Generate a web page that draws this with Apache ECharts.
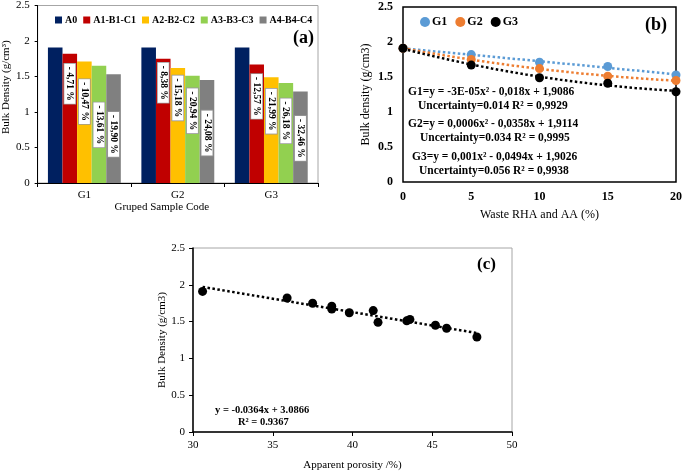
<!DOCTYPE html>
<html><head><meta charset="utf-8">
<script src="https://cdn.jsdelivr.net/npm/echarts@6/dist/echarts.min.js"></script>
<style>html,body{margin:0;padding:0;background:#fff}#c{width:685px;height:472px}</style>
</head><body><div id="c"></div>
<script>
// ---------- data ----------
const groups = ['G1', 'G2', 'G3'];
const mixNames = ['A0', 'A1-B1-C1', 'A2-B2-C2', 'A3-B3-C3', 'A4-B4-C4'];
const densA0 = [1.91, 1.91, 1.91];
const densA1 = [1.82, 1.75, 1.67];
const densA2 = [1.71, 1.62, 1.49];
const densA3 = [1.65, 1.51, 1.41];
const densA4 = [1.53, 1.45, 1.29];

const wasteX = [0, 5, 10, 15, 20];
const densG1 = [1.91, 1.82, 1.71, 1.65, 1.53];
const densG2 = [1.91, 1.75, 1.62, 1.51, 1.45];
const densG3 = [1.91, 1.67, 1.49, 1.41, 1.29];

const porosity = [30.6, 35.9, 37.5, 38.7, 38.7, 39.8, 41.3, 41.6, 43.4, 43.6, 45.2, 45.9, 47.8];
const porosityDens = [1.91, 1.82, 1.75, 1.71, 1.67, 1.62, 1.65, 1.49, 1.51, 1.53, 1.45, 1.41, 1.29];

const eqLinesB = [
  'G1=y = -3E-05x² - 0,018x + 1,9086',
  'Uncertainty=0.014 R² = 0,9929',
  'G2=y = 0,0006x² - 0,0358x + 1,9114',
  'Uncertainty=0.034 R² = 0,9995',
  'G3=y = 0,001x² - 0,0494x + 1,9026',
  'Uncertainty=0.056 R² = 0,9938'
];
const eqLinesC = ['y = -0.0364x + 3.0866', 'R² = 0.9367'];

// ---------- layout / style ----------
const SERIF = '"Liberation Serif", "Times New Roman", serif';
const barColors = ['#002060', '#C00000', '#FFC000', '#92D050', '#808080'];
const labelDy = [null, [30, 24, 32], [40, 30, 34], [59, 35, 38], [60, 53, 47]];
const eqPosB = [[408, 92], [418, 106], [408, 124], [420, 138], [412, 157], [419, 171]];
const eqPosC = [[215, 410], [238, 422]];

// ---------- helpers ----------
function fitQuadratic(xs, ys) {
  let S = [0, 0, 0, 0, 0], T = [0, 0, 0];
  xs.forEach((x, i) => {
    for (let k = 0; k < 5; k++) S[k] += Math.pow(x, k);
    for (let k = 0; k < 3; k++) T[k] += Math.pow(x, k) * ys[i];
  });
  const A = [[S[0], S[1], S[2], T[0]], [S[1], S[2], S[3], T[1]], [S[2], S[3], S[4], T[2]]];
  for (let c = 0; c < 3; c++) {
    for (let r = c + 1; r < 3; r++) {
      const f = A[r][c] / A[c][c];
      for (let k = c; k < 4; k++) A[r][k] -= f * A[c][k];
    }
  }
  const b = [0, 0, 0];
  for (let r = 2; r >= 0; r--) {
    let s = A[r][3];
    for (let k = r + 1; k < 3; k++) s -= A[r][k] * b[k];
    b[r] = s / A[r][r];
  }
  return b;
}
function fitLinear(xs, ys) {
  const n = xs.length;
  const mx = xs.reduce((a, b) => a + b, 0) / n, my = ys.reduce((a, b) => a + b, 0) / n;
  let sxy = 0, sxx = 0;
  xs.forEach((x, i) => { sxy += (x - mx) * (ys[i] - my); sxx += (x - mx) * (x - mx); });
  const m = sxy / sxx;
  return [my - m * mx, m];
}
function trendQuad(xs, ys) {
  const c = fitQuadratic(xs, ys);
  const out = [];
  const x0 = Math.min(...xs), x1 = Math.max(...xs);
  for (let x = x0; x <= x1 + 1e-9; x += 0.5) out.push([x, c[0] + c[1] * x + c[2] * x * x]);
  return out;
}
function trendLin(xs, ys) {
  const c = fitLinear(xs, ys);
  const x0 = Math.min(...xs), x1 = Math.max(...xs);
  return [[x0, c[0] + c[1] * x0], [x1, c[0] + c[1] * x1]];
}

const barSets = [densA0, densA1, densA2, densA3, densA4];
const barSeries = barSets.map((vals, si) => ({
  type: 'bar', name: mixNames[si], xAxisIndex: 0, yAxisIndex: 0,
  barGap: '0%', barCategoryGap: '22%',
  itemStyle: { color: barColors[si] },
  data: vals.map((v, i) => {
    if (si === 0) return v;
    return { value: v, label: { position: ['50%', labelDy[si][i]] } };
  }),
  label: {
    show: si > 0, rotate: -90, align: 'center', verticalAlign: 'middle',
    formatter: p => '- ' + ((densA0[p.dataIndex] - p.value) / densA0[p.dataIndex] * 100).toFixed(2).replace('.', ',') + ' %',
    backgroundColor: '#fff', borderColor: '#999', borderWidth: 0.8, padding: [1, 3],
    fontFamily: SERIF, fontWeight: 'bold', fontSize: 9.5, lineHeight: 9, color: '#000'
  }
}));

const gColors = ['#5B9BD5', '#ED7D31', '#000000'];
const gData = [densG1, densG2, densG3];
const trendSeriesB = gData.map((d, i) => ({
  type: 'line', name: 'trend' + i, xAxisIndex: 1, yAxisIndex: 1,
  showSymbol: false, silent: true, z: 2,
  lineStyle: { type: 'dotted', width: 2.5, color: gColors[i] },
  data: trendQuad(wasteX, d)
}));
const scatterSeriesB = gData.map((d, i) => ({
  type: 'scatter', name: groups[i], xAxisIndex: 1, yAxisIndex: 1,
  symbolSize: 9, z: 5, itemStyle: { color: gColors[i], opacity: 1 },
  data: wasteX.map((x, k) => [x, d[k]])
}));

const axisLbl = (bold, size, margin) => ({ fontFamily: SERIF, fontWeight: bold ? 'bold' : 'normal', fontSize: size, color: '#000', margin });
const nameStyle = (size, extra) => Object.assign({ fontFamily: SERIF, fontSize: size, color: '#000' }, extra || {});

const option = {
  animation: false,
  backgroundColor: '#fff',
  grid: [
    { left: 37, top: 4, width: 281, height: 179, show: true, borderColor: '#a6a6a6', borderWidth: 1, backgroundColor: 'transparent' },
    { left: 403, top: 7, width: 280, height: 175, show: true, borderColor: '#000', borderWidth: 1.5, backgroundColor: 'transparent' },
    { left: 193, top: 248, width: 319, height: 189, show: true, borderColor: '#a6a6a6', borderWidth: 1, backgroundColor: 'transparent' }
  ],
  legend: [
    { data: mixNames, left: 50, top: 10, icon: 'rect', itemWidth: 7, itemHeight: 7, itemGap: 6,
      textStyle: { fontFamily: SERIF, fontWeight: 'bold', fontSize: 10, color: '#000', padding: [0, 0, 0, -2] } },
    { data: groups, left: 415, top: 11, icon: 'circle', itemWidth: 10, itemHeight: 10, itemGap: 8,
      textStyle: { fontFamily: SERIF, fontWeight: 'bold', fontSize: 12, color: '#000', padding: [0, 0, 0, -3] } }
  ],
  xAxis: [
    { type: 'category', gridIndex: 0, data: groups,
      axisLine: { lineStyle: { color: '#000', width: 1 } },
      axisTick: { show: true, length: 4, lineStyle: { color: '#000' } },
      axisLabel: axisLbl(false, 11, 7),
      name: 'Gruped Sample Code', nameLocation: 'middle', nameGap: 17,
      nameTextStyle: nameStyle(11, { padding: [0, 32, 0, 0] }) },
    { type: 'value', gridIndex: 1, min: 0, max: 20, interval: 5,
      axisLine: { show: false }, axisTick: { show: false }, splitLine: { show: false },
      axisLabel: axisLbl(true, 12, 9),
      name: 'Waste RHA and AA (%)', nameLocation: 'middle', nameGap: 27,
      nameTextStyle: nameStyle(12) },
    { type: 'value', gridIndex: 2, min: 30, max: 50, interval: 5,
      axisLine: { show: true, lineStyle: { color: '#000', width: 1.5 } },
      axisTick: { show: true, length: 4, lineStyle: { color: '#000' } }, splitLine: { show: false },
      axisLabel: axisLbl(false, 11, 8),
      name: 'Apparent porosity /%)', nameLocation: 'middle', nameGap: 28,
      nameTextStyle: nameStyle(11) }
  ],
  yAxis: [
    { type: 'value', gridIndex: 0, min: 0, max: 2.5, interval: 0.5,
      axisLine: { show: true, lineStyle: { color: '#000', width: 1 } },
      axisTick: { show: true, length: 3, lineStyle: { color: '#000' } }, splitLine: { show: false },
      axisLabel: axisLbl(false, 11, 8),
      name: 'Bulk Density (g/cm³)', nameLocation: 'middle', nameGap: 22,
      nameTextStyle: nameStyle(11, { padding: [0, 0, 0, 14] }) },
    { type: 'value', gridIndex: 1, min: 0, max: 2.5, interval: 0.5,
      axisLine: { show: false }, axisTick: { show: false }, splitLine: { show: false },
      axisLabel: axisLbl(true, 12, 10),
      name: 'Bulk density (g/cm3)', nameLocation: 'middle', nameGap: 31,
      nameTextStyle: nameStyle(12) },
    { type: 'value', gridIndex: 2, min: 0, max: 2.5, interval: 0.5,
      axisLine: { show: true, lineStyle: { color: '#000', width: 1.5 } },
      axisTick: { show: true, length: 4, lineStyle: { color: '#000' } }, splitLine: { show: false },
      axisLabel: axisLbl(false, 11, 8),
      name: 'Bulk Density (g/cm3)', nameLocation: 'middle', nameGap: 25,
      nameTextStyle: nameStyle(11) }
  ],
  series: [
    ...barSeries,
    ...trendSeriesB,
    ...scatterSeriesB,
    { type: 'line', name: 'trendC', xAxisIndex: 2, yAxisIndex: 2, showSymbol: false, silent: true, z: 2,
      lineStyle: { type: 'dotted', width: 2.5, color: '#000' }, data: trendLin(porosity, porosityDens) },
    { type: 'scatter', name: 'porosity', xAxisIndex: 2, yAxisIndex: 2, symbolSize: 9, z: 5,
      itemStyle: { color: '#000', opacity: 1 }, data: porosity.map((x, i) => [x, porosityDens[i]]) }
  ],
  graphic: [
    { type: 'text', x: 293, y: 38, style: { text: '(a)', font: 'bold 18px ' + SERIF, fill: '#000', verticalAlign: 'middle' } },
    { type: 'text', x: 645, y: 25, style: { text: '(b)', font: 'bold 18px ' + SERIF, fill: '#000', verticalAlign: 'middle' } },
    { type: 'text', x: 477, y: 265, style: { text: '(c)', font: 'bold 17px ' + SERIF, fill: '#000', verticalAlign: 'middle' } },
    ...eqLinesB.map((t, i) => ({ type: 'text', x: eqPosB[i][0], y: eqPosB[i][1], z: 10,
      style: { text: t, font: 'bold 11.5px ' + SERIF, fill: '#000', verticalAlign: 'middle' } })),
    ...eqLinesC.map((t, i) => ({ type: 'text', x: eqPosC[i][0], y: eqPosC[i][1], z: 10,
      style: { text: t, font: 'bold 10.5px ' + SERIF, fill: '#000', verticalAlign: 'middle' } }))
  ]
};
const chart = echarts.init(document.getElementById('c'), null, { renderer: 'canvas' });
chart.setOption(option);
</script></body></html>
